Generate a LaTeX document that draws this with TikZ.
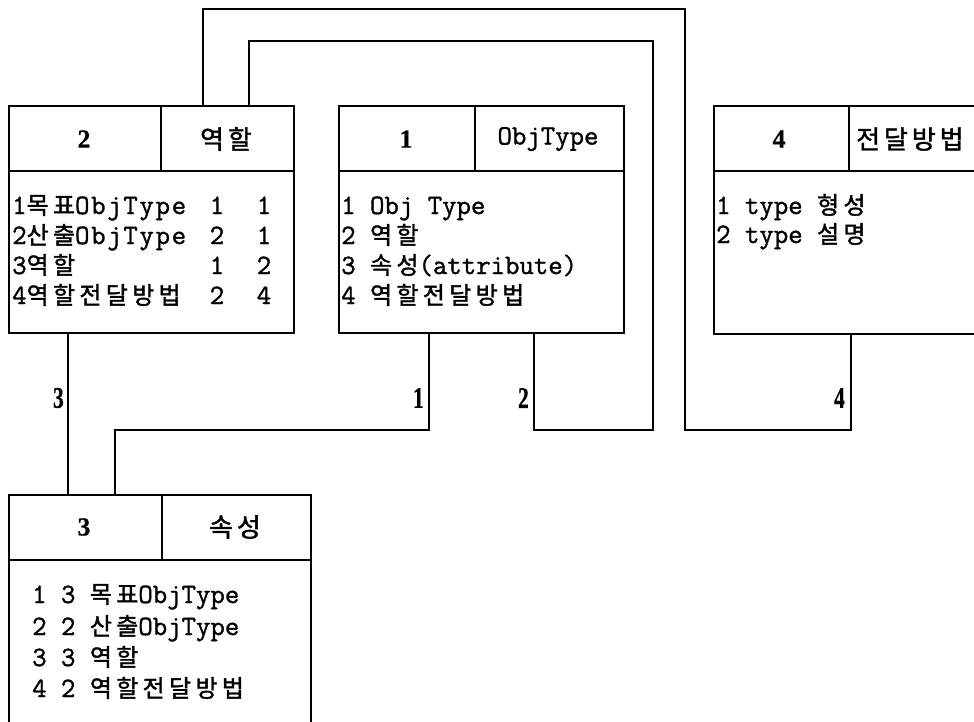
\documentclass[tikz,border=0pt]{standalone}
\usepackage{fontspec}
\newfontfamily\mono[FakeBold=1.2]{Latin Modern Mono}
\newfontfamily\monow[FakeBold=1.2,LetterSpace=6]{Latin Modern Mono}
\newfontfamily\kr[FakeBold=1.5,LetterSpace=18]{Noto Sans CJK KR}
\newfontfamily\krh[FakeBold=1.5,LetterSpace=15]{Noto Sans CJK KR}
\newfontfamily\numfont[FakeBold=0.5]{Liberation Serif Bold}
\newcommand\K[1]{{\kr\fontsize{24}{26}\selectfont#1}}
\newcommand\KH[1]{{\krh\fontsize{26}{30}\selectfont#1}}
\newcommand\CL[1]{\scalebox{0.72}[1]{#1}}
\begin{document}
\begin{tikzpicture}[x=1pt,y=-1pt,
  cell/.style={draw,line width=1.6pt,rectangle,inner sep=0pt,anchor=north west},
  rowtxt/.style={anchor=base west,inner sep=0pt,font=\mono\fontsize{28}{30}\selectfont},
  rowwide/.style={anchor=base west,inner sep=0pt,font=\monow\fontsize{28}{30}\selectfont},
  numtxt/.style={anchor=base,inner sep=0pt,font=\mono\fontsize{28}{30}\selectfont},
  hnum/.style={inner sep=0pt,font=\numfont\fontsize{26}{28}\selectfont},
  htxt/.style={inner sep=0pt,font=\mono\fontsize{28}{30}\selectfont},
  clab/.style={inner sep=0pt,anchor=east,font=\numfont\fontsize{30}{30}\selectfont},
  wire/.style={line width=1.6pt}]
\clip (0,0) rectangle (974,721);
\fill[white] (0,0) rectangle (974,721);
% left box (2)
\node[cell,minimum width=152pt,minimum height=65pt] (L1) at (8,105) {};
\node[cell,minimum width=133pt,minimum height=65pt] (L2) at (160,105) {};
\node[cell,minimum width=285pt,minimum height=162pt] (Lb) at (8,170) {};
\node[hnum] (L1t) at (84,139) {2};
\node[inner sep=0pt] (L2t) at (226,139) {\KH{역할}};
\node[rowwide] (l1) at (12,214) {1\K{목표}ObjType};
\node[rowwide] (l2) at (12,244) {2\K{산출}ObjType};
\node[rowwide] (l3) at (12,274) {3\K{역할}};
\node[rowwide] (l4) at (12,304) {4\K{역할전달방법}};
\node[numtxt] (l1a) at (217,214) {1};
\node[numtxt] (l1b) at (264,214) {1};
\node[numtxt] (l2a) at (217,244) {2};
\node[numtxt] (l2b) at (264,244) {1};
\node[numtxt] (l3a) at (217,274) {1};
\node[numtxt] (l3b) at (264,274) {2};
\node[numtxt] (l4a) at (217,304) {2};
\node[numtxt] (l4b) at (264,304) {4};
% middle box (1)
\node[cell,minimum width=136pt,minimum height=65pt] (M1) at (338,105) {};
\node[cell,minimum width=149pt,minimum height=65pt] (M2) at (474,105) {};
\node[cell,minimum width=285pt,minimum height=162pt] (Mb) at (338,170) {};
\node[hnum] (M1t) at (406,139) {1};
\node[htxt] (M2t) at (548,139) {ObjType};
\node[rowtxt] (m1) at (341,214) {1 Obj Type};
\node[rowtxt] (m2) at (341,244) {2 \K{역할}};
\node[rowtxt] (m3) at (341,274) {3 \K{속성}(attribute)};
\node[rowtxt] (m4) at (341,304) {4 \K{역할전달방법}};
% right box (4)
\node[cell,minimum width=135pt,minimum height=65pt] (R1) at (713,105) {};
\node[cell,minimum width=200pt,minimum height=65pt] (R2) at (848,105) {};
\node[cell,minimum width=335pt,minimum height=163pt] (Rb) at (713,170) {};
\node[hnum] (R1t) at (779,139) {4};
\node[inner sep=0pt,anchor=west] (R2t) at (856,139) {\KH{전달방법}};
\node[rowtxt] (r1) at (716,214) {1 type \K{형성}};
\node[rowtxt] (r2) at (716,243) {2 type \K{설명}};
% bottom box (3)
\node[cell,minimum width=153pt,minimum height=65pt] (B1) at (8,494) {};
\node[cell,minimum width=149pt,minimum height=65pt] (B2) at (161,494) {};
\node[cell,minimum width=302pt,minimum height=200pt] (Bb) at (8,559) {};
\node[hnum] (B1t) at (84,527) {3};
\node[inner sep=0pt] (B2t) at (235,527) {\KH{속성}};
\node[rowtxt] (b1) at (32,603) {1 3 \K{목표}ObjType};
\node[rowtxt] (b2) at (32,635) {2 2 \K{산출}ObjType};
\node[rowtxt] (b3) at (32,666) {3 3 \K{역할}};
\node[rowtxt] (b4) at (32,697) {4 2 \K{역할전달방법}};
% connectors
\coordinate (j1) at (115,430);
\coordinate (k1) at (653,430);
\coordinate (k2) at (653,41);
\coordinate (q1) at (685,430);
\coordinate (q2) at (685,9);
\draw[wire] ([xshift=60pt]Lb.south west) -- ([xshift=60pt]B1.north west);
\draw[wire] ([xshift=91pt]Mb.south west) |- (j1) -- ([xshift=107pt]B1.north west);
\draw[wire] ([xshift=196pt]Mb.south west) |- (k1) -- (k2) -| ([xshift=89pt]L2.north west);
\draw[wire] ([xshift=138pt]Rb.south west) |- (q1) -- (q2) -| ([xshift=43pt]L2.north west);
\node[clab] (n3) at (64,398) {\CL{3}};
\node[clab] (n1) at (424,398) {\CL{1}};
\node[clab] (n2) at (529,398) {\CL{2}};
\node[clab] (n4) at (845,398) {\CL{4}};
\end{tikzpicture}
\end{document}
